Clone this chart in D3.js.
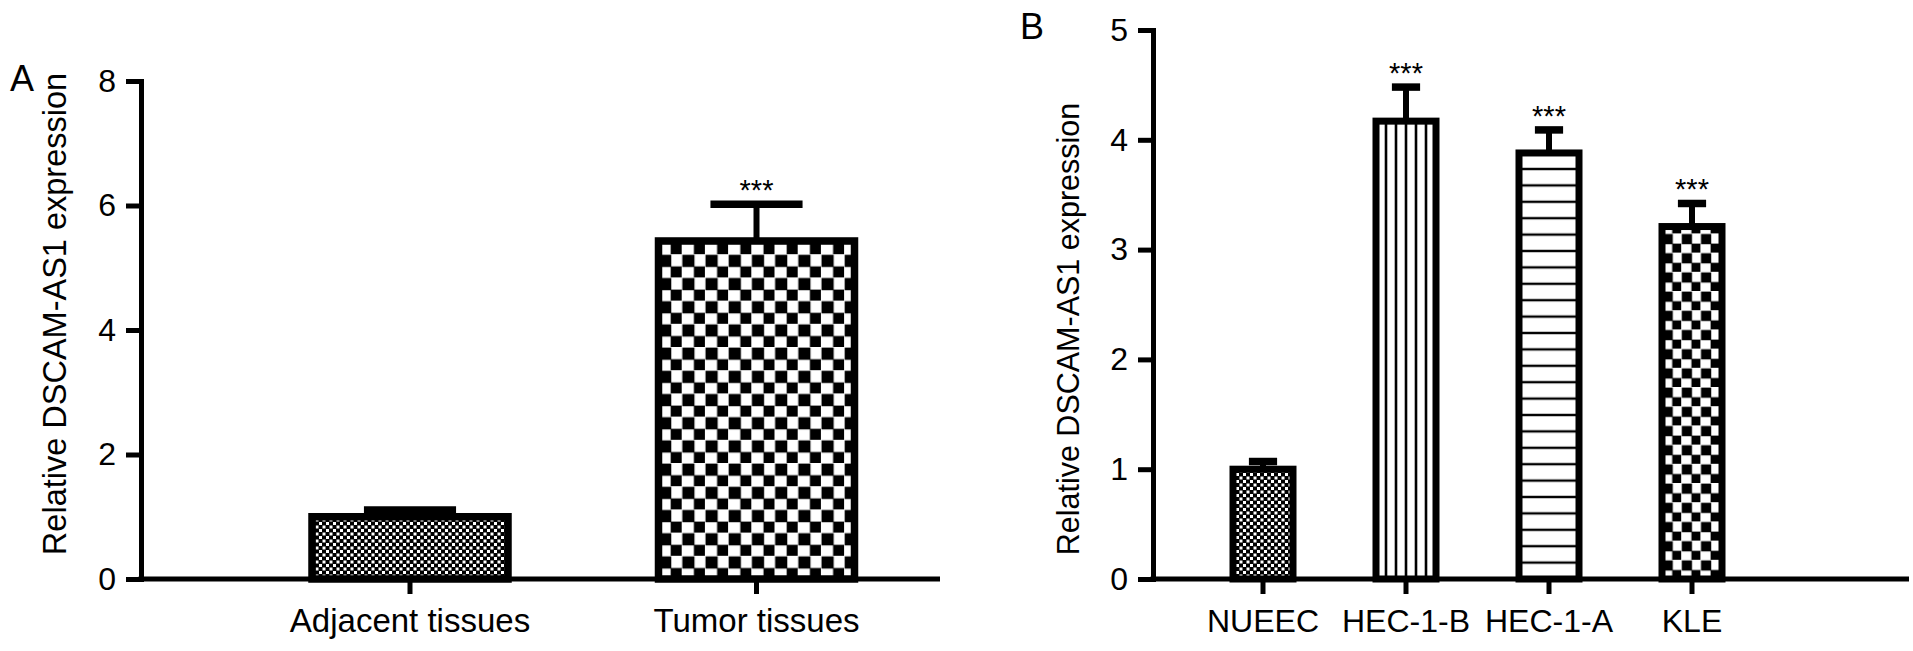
<!DOCTYPE html>
<html>
<head>
<meta charset="utf-8">
<script src="https://cdn.jsdelivr.net/npm/d3@7"></script>
<style>
  html, body { margin: 0; padding: 0; background: #fff; }
  svg { display: block; }
  text { font-family: "Liberation Sans", Arial, Helvetica, sans-serif; fill: #000; }
</style>
</head>
<body>
<svg id="chart" width="1913" height="651"></svg>
<script>
// ---------------- data ----------------
const catsA = ["Adjacent tissues", "Tumor tissues"];
const valuesA = [1.0, 5.43];
const errorsA = [0.11, 0.59];
const sigA = ["", "***"];
const patternsA = ["dots", "checker"];
const ticksA = [0, 2, 4, 6, 8];

const catsB = ["NUEEC", "HEC-1-B", "HEC-1-A", "KLE"];
const valuesB = [1.0, 4.17, 3.88, 3.21];
const errorsB = [0.07, 0.31, 0.21, 0.21];
const sigB = ["", "***", "***", "***"];
const patternsB = ["dots", "vlines", "hlines", "checker"];
const ticksB = [0, 1, 2, 3, 4, 5];

const yTitle = "Relative DSCAM-AS1 expression";

// ---------------- drawing ----------------
const svg = d3.select("#chart");
const defs = svg.append("defs");
const FONT = '"Liberation Sans", Arial, Helvetica, sans-serif';

// fine dot/checker pattern
const pd = defs.append("pattern").attr("id", "dots").attr("patternUnits", "userSpaceOnUse")
  .attr("width", 7).attr("height", 7);
pd.append("rect").attr("width", 7).attr("height", 7).attr("fill", "#000");
pd.append("rect").attr("x", 0.5).attr("y", 0.5).attr("width", 3).attr("height", 3).attr("fill", "#fff");
pd.append("rect").attr("x", 4).attr("y", 4).attr("width", 3).attr("height", 3).attr("fill", "#fff");

function checker(id, cell, x0, y0) {
  const p = defs.append("pattern").attr("id", id).attr("patternUnits", "userSpaceOnUse")
    .attr("x", x0).attr("y", y0)
    .attr("width", cell * 2).attr("height", cell * 2);
  p.append("rect").attr("width", cell * 2).attr("height", cell * 2).attr("fill", "#fff");
  p.append("rect").attr("x", 0.6).attr("y", 0.6).attr("width", cell + 0.6).attr("height", cell + 0.6).attr("fill", "#000");
  p.append("rect").attr("x", cell + 0.6).attr("y", cell + 0.6).attr("width", cell + 0.6).attr("height", cell + 0.6).attr("fill", "#000");
}

function panel(cfg) {
  const { cats, values, errors, sig, patterns, ticks, yMax, axisX, axisEnd, baseY, topY,
          firstCenter, step, barW, barStroke, tickFont, labelFont, titleFont, titleCenter,
          letter, letterX, letterY, titleX, cell, hSpacing } = cfg;
  const g = svg.append("g");

  const y = d3.scaleLinear().domain([0, yMax]).range([baseY, topY]);
  const x = d3.scaleBand().domain(cats)
    .range([firstCenter - step / 2, firstCenter + (cats.length - 0.5) * step])
    .paddingInner(1 - barW / step).paddingOuter((1 - barW / step) / 2);

  const fills = cats.map((c, i) => {
    const id = "pat" + letter + i;
    const p = patterns[i];
    if (p === "dots") return "url(#dots)";
    if (p === "checker") { checker(id, cell, x(c), baseY); return `url(#${id})`; }
    if (p === "vlines") {
      const w = x.bandwidth() / 6;
      const pt = defs.append("pattern").attr("id", id).attr("patternUnits", "userSpaceOnUse")
        .attr("x", x(c)).attr("y", 0).attr("width", w).attr("height", 10);
      pt.append("rect").attr("width", w).attr("height", 10).attr("fill", "#fff");
      pt.append("rect").attr("x", -1.3).attr("width", 2.6).attr("height", 10).attr("fill", "#000");
      pt.append("rect").attr("x", w - 1.3).attr("width", 2.6).attr("height", 10).attr("fill", "#000");
      return `url(#${id})`;
    }
    if (p === "hlines") {
      const h = hSpacing;
      const pt = defs.append("pattern").attr("id", id).attr("patternUnits", "userSpaceOnUse")
        .attr("x", 0).attr("y", baseY).attr("width", 10).attr("height", h);
      pt.append("rect").attr("width", 10).attr("height", h).attr("fill", "#fff");
      pt.append("rect").attr("y", -1.2).attr("width", 10).attr("height", 2.4).attr("fill", "#000");
      pt.append("rect").attr("y", h - 1.2).attr("width", 10).attr("height", 2.4).attr("fill", "#000");
      return `url(#${id})`;
    }
    return "#fff";
  });

  // bars
  g.selectAll("rect.bar").data(cats).join("rect").attr("class", "bar")
    .attr("x", d => x(d)).attr("width", x.bandwidth())
    .attr("y", (d, i) => y(values[i])).attr("height", (d, i) => y(0) - y(values[i]))
    .attr("fill", (d, i) => fills[i])
    .attr("stroke", "#000").attr("stroke-width", barStroke);

  // error bars
  const cx = d => x(d) + x.bandwidth() / 2;
  const capW = x.bandwidth() * 0.47;
  g.selectAll("line.stem").data(cats).join("line")
    .attr("x1", cx).attr("x2", cx)
    .attr("y1", (d, i) => y(values[i])).attr("y2", (d, i) => y(values[i] + errors[i]))
    .attr("stroke", "#000").attr("stroke-width", 6);
  g.selectAll("line.cap").data(cats).join("line")
    .attr("x1", d => cx(d) - capW / 2).attr("x2", d => cx(d) + capW / 2)
    .attr("y1", (d, i) => y(values[i] + errors[i])).attr("y2", (d, i) => y(values[i] + errors[i]))
    .attr("stroke", "#000").attr("stroke-width", 7.5);

  // significance
  g.selectAll("text.sig").data(cats).join("text")
    .attr("x", cx).attr("y", (d, i) => y(values[i] + errors[i]) - 4)
    .attr("text-anchor", "middle").attr("font-size", 29)
    .text((d, i) => sig[i]);

  // y axis
  const ya = g.append("g").attr("transform", `translate(${axisX},0)`)
    .call(d3.axisLeft(y).tickValues(ticks).tickFormat(d3.format("d"))
      .tickSize(15).tickSizeOuter(0).tickPadding(10));
  ya.select(".domain").attr("stroke-width", 5).attr("stroke-linecap", "square");
  ya.selectAll(".tick line").attr("stroke-width", 5);
  ya.selectAll(".tick text").attr("font-size", tickFont).style("font-family", FONT);

  // x axis
  const xa = g.append("g").attr("transform", `translate(0,${baseY})`)
    .call(d3.axisBottom(x).tickSize(15).tickSizeOuter(0).tickPadding(15));
  xa.select(".domain").remove();
  xa.selectAll(".tick line").attr("stroke-width", 5);
  xa.selectAll(".tick text").attr("font-size", labelFont).style("font-family", FONT);
  g.append("line").attr("x1", axisX - 2.5).attr("x2", axisEnd)
    .attr("y1", baseY).attr("y2", baseY).attr("stroke", "#000").attr("stroke-width", 5);

  // y title
  g.append("text")
    .attr("transform", `translate(${titleX},${titleCenter}) rotate(-90)`)
    .attr("text-anchor", "middle").attr("font-size", titleFont)
    .text(yTitle);

  // panel letter
  g.append("text").attr("x", letterX).attr("y", letterY).attr("font-size", 36).text(letter);
}

panel({
  cats: catsA, values: valuesA, errors: errorsA, sig: sigA, patterns: patternsA, ticks: ticksA,
  yMax: 8, axisX: 141, axisEnd: 940, baseY: 579, topY: 81,
  firstCenter: 410, step: 346.5, barW: 196, barStroke: 7.5,
  tickFont: 32, labelFont: 33, titleFont: 32.5, titleCenter: 314,
  letter: "A", letterX: 10, letterY: 91, titleX: 66, cell: 11.6, hSpacing: 16.4
});

panel({
  cats: catsB, values: valuesB, errors: errorsB, sig: sigB, patterns: patternsB, ticks: ticksB,
  yMax: 5, axisX: 1153, axisEnd: 1909, baseY: 579, topY: 30,
  firstCenter: 1263, step: 143, barW: 60, barStroke: 7,
  tickFont: 32, labelFont: 32, titleFont: 30.5, titleCenter: 329,
  letter: "B", letterX: 1020, letterY: 39, titleX: 1079, cell: 9.6, hSpacing: 16.4
});
</script>
</body>
</html>
